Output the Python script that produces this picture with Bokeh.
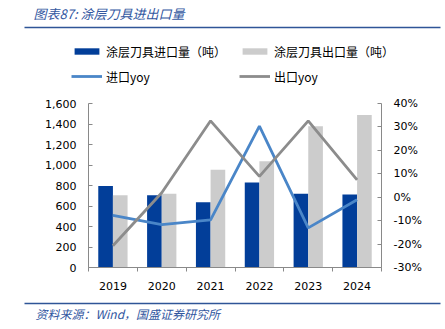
from bokeh.plotting import figure
from bokeh.layouts import column
from bokeh.models import (Range1d, LinearAxis, NumeralTickFormatter, FixedTicker,
                          Legend, LegendItem, ColumnDataSource)
from bokeh.core.properties import value
from bokeh.embed import file_html
from bokeh.resources import INLINE

years = ["2019", "2020", "2021", "2022", "2023", "2024"]
import_vol = [795, 706, 637, 830, 719, 712]
export_vol = [706, 719, 954, 1036, 1379, 1487]
import_yoy = [-0.078, -0.117, -0.097, 0.303, -0.131, -0.011]
export_yoy = [-0.207, 0.019, 0.326, 0.089, 0.326, 0.074]

left_ticks = [0, 200, 400, 600, 800, 1000, 1200, 1400, 1600]
right_ticks = [-0.3, -0.2, -0.1, 0.0, 0.1, 0.2, 0.3, 0.4]

title_text = "图表87:  涂层刀具进出口量"
source_text = "资料来源：Wind，国盛证券研究所"
leg_labels = ["涂层刀具进口量（吨）", "涂层刀具出口量（吨）", "进口yoy", "出口yoy"]

C_IMP = "#023E99"
C_EXP = "#CCCCCC"
C_IMP_L = "#4A86C8"
C_EXP_L = "#8C8C8C"
C_AXIS = "#898989"
C_BLUE = "#2F5597"
C_TXT_BLUE = "#32579F"

TF = "DejaVu Sans"
CJK = "Noto Sans CJK SC"

W, H = 445, 329
TOP_H = 88          # header strip (title + legend)
BOT_Y = 296         # footer strip starts
FL, FR, FT, FB = 88, 381, 103, 267


def blank_fig(h, y0):
    f = figure(width=W, height=h, output_backend="svg", toolbar_location=None,
               x_range=Range1d(0, W), y_range=Range1d(y0 + h, y0),
               x_axis_type=None, y_axis_type=None, frame_align=False,
               min_border=0, min_border_left=0, min_border_right=0,
               min_border_top=0, min_border_bottom=0)
    f.outline_line_color = None
    f.xgrid.visible = False
    f.ygrid.visible = False
    f.background_fill_color = "white"
    f.border_fill_color = "white"
    return f


# ---------------- main chart ----------------
n = len(years)
centers = [i + 0.5 for i in range(n)]
bw = 0.3
src = ColumnDataSource(dict(
    xi=[c - bw / 2 for c in centers], xe=[c + bw / 2 for c in centers], xc=centers,
    imp=import_vol, exp=export_vol, iy=import_yoy, ey=export_yoy))

p = figure(width=W, height=BOT_Y - TOP_H, output_backend="svg", toolbar_location=None,
           x_range=Range1d(0, n), y_range=Range1d(0, 1600), frame_align=False,
           min_border_left=FL, min_border_right=W - FR,
           min_border_top=FT - TOP_H, min_border_bottom=BOT_Y - FB)
p.extra_y_ranges = {"yoy": Range1d(-0.3, 0.4)}
p.outline_line_color = None
p.xgrid.visible = False
p.ygrid.visible = False
p.background_fill_color = "white"
p.border_fill_color = "white"

ya = p.yaxis[0]
ya.ticker = FixedTicker(ticks=left_ticks)
ya.formatter = NumeralTickFormatter(format="0,0")
ra = LinearAxis(y_range_name="yoy")
ra.ticker = FixedTicker(ticks=right_ticks)
ra.formatter = NumeralTickFormatter(format="0%")
p.add_layout(ra, "right")
for ax in (ya, ra):
    ax.major_tick_in = 4
    ax.major_tick_out = 0
    ax.minor_tick_line_color = None
    ax.major_label_standoff = 12
    ax.axis_line_color = C_AXIS
    ax.major_tick_line_color = C_AXIS
    ax.major_label_text_font = TF
    ax.major_label_text_font_size = "11px"
    ax.major_label_text_color = "black"

xa = p.xaxis[0]
xa.ticker = FixedTicker(ticks=centers, minor_ticks=list(range(n + 1)))
xa.major_label_overrides = {c: y for c, y in zip(centers, years)}
xa.major_tick_line_color = None
xa.major_tick_out = 0
xa.major_tick_in = 0
xa.minor_tick_out = 4
xa.minor_tick_in = 0
xa.minor_tick_line_color = C_AXIS
xa.axis_line_color = C_AXIS
xa.major_label_standoff = 10
xa.major_label_text_font = TF
xa.major_label_text_font_size = "11px"
xa.major_label_text_color = "black"

p.vbar(x="xi", top="imp", width=bw, source=src, color=C_IMP, line_color=None)
p.vbar(x="xe", top="exp", width=bw, source=src, color=C_EXP, line_color=None)
p.line(x="xc", y="iy", source=src, y_range_name="yoy", line_color=C_IMP_L, line_width=2.8)
p.line(x="xc", y="ey", source=src, y_range_name="yoy", line_color=C_EXP_L, line_width=2.8)

# ---------------- header: title + legend ----------------
top = blank_fig(TOP_H, 0)
top.text(x=[33], y=[13], text=[title_text], text_font=value(CJK), text_font_size="13px",
         text_color=C_TXT_BLUE, text_font_style="italic", text_baseline="middle", text_align="left")
top.segment(x0=[24], x1=[440], y0=[27], y1=[27], line_color=C_BLUE, line_width=1.5)

# legend proxy renderers (off-screen), styled like the chart's marks
g1 = top.vbar(x=[-100], top=[-100], width=1, color=C_IMP, line_color=None)
g2 = top.vbar(x=[-100], top=[-100], width=1, color=C_EXP, line_color=None)
g3 = top.line(x=[-100, -90], y=[-100, -100], line_color=C_IMP_L, line_width=2.8)
g4 = top.line(x=[-100, -90], y=[-100, -100], line_color=C_EXP_L, line_width=2.8)


def mk_legend(items, x):
    return Legend(items=items, location=(x, TOP_H - 84.5),
                  orientation="vertical", padding=0, margin=0, spacing=8,
                  glyph_width=31, glyph_height=8, label_height=15,
                  label_standoff=4, border_line_alpha=0, background_fill_alpha=0,
                  label_text_font=CJK, label_text_font_size="12px",
                  label_text_color="black")


top.add_layout(mk_legend([LegendItem(label=leg_labels[0], renderers=[g1]),
                          LegendItem(label=leg_labels[2], renderers=[g3])], 71), "center")
top.add_layout(mk_legend([LegendItem(label=leg_labels[1], renderers=[g2]),
                          LegendItem(label=leg_labels[3], renderers=[g4])], 239), "center")

# ---------------- footer: rule + source ----------------
bot = blank_fig(H - BOT_Y, BOT_Y)
bot.segment(x0=[24], x1=[440], y0=[303], y1=[303], line_color=C_BLUE, line_width=1.5)
bot.text(x=[35], y=[313], text=[source_text], text_font=value(CJK), text_font_size="12px",
         text_color=C_TXT_BLUE, text_font_style="italic", text_baseline="middle", text_align="left")

layout = column(top, p, bot, spacing=0)
open("out.html", "w").write(file_html(layout, INLINE))
